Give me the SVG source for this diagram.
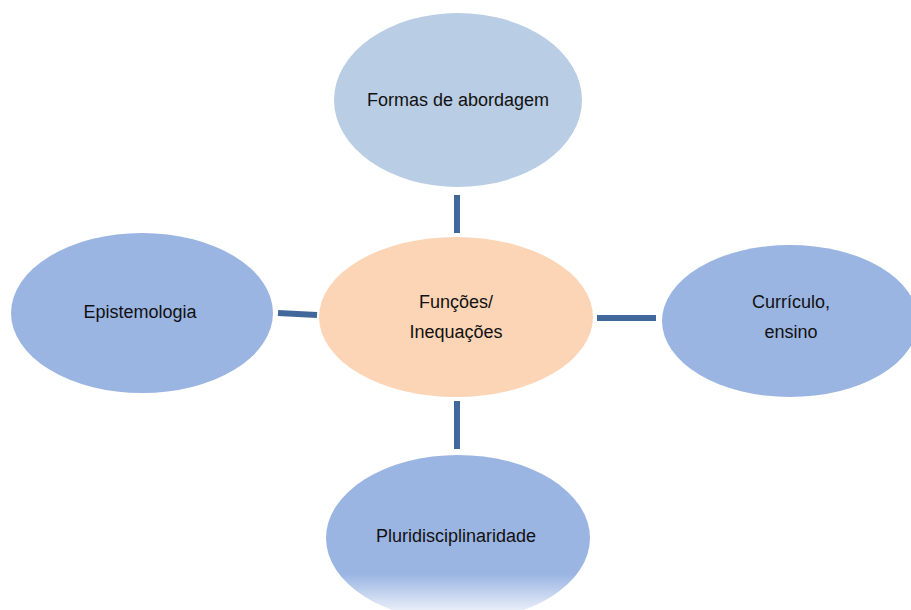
<svg xmlns="http://www.w3.org/2000/svg" width="911" height="610" viewBox="0 0 911 610">
<defs>
<linearGradient id="fade" x1="0" y1="0" x2="0" y2="1">
<stop offset="0" stop-color="#9BB5E3"/>
<stop offset="0.72" stop-color="#9BB5E3"/>
<stop offset="1" stop-color="#FFFFFF"/>
</linearGradient>
<style>
.lbl{font-family:"Liberation Sans",Arial,sans-serif;font-size:18px;fill:#111;text-anchor:middle}
.conn{stroke:#41689A;stroke-width:6;fill:none}
.blue{fill:#9BB5E3}
</style>
</defs>
<rect width="911" height="610" fill="#fff"/>
<g id="connectors">
<line class="conn" x1="457" y1="195" x2="457" y2="233"/>
<line class="conn" x1="457" y1="401" x2="457" y2="449"/>
<line class="conn" x1="278" y1="313" x2="317" y2="315"/>
<line class="conn" x1="597" y1="318" x2="656" y2="318"/>
</g>
<g id="formas">
<ellipse cx="458" cy="100" rx="124" ry="87" fill="#B9CDE5"/>
<text class="lbl" x="458" y="106">Formas de abordagem</text>
</g>
<g id="funcoes">
<ellipse cx="456" cy="317" rx="137" ry="80" fill="#FBD5B5"/>
<text class="lbl" x="456" y="308">Funções/</text>
<text class="lbl" x="456" y="338">Inequações</text>
</g>
<g id="epistemologia">
<ellipse class="blue" cx="142" cy="313" rx="131" ry="80"/>
<text class="lbl" x="140" y="318">Epistemologia</text>
</g>
<g id="curriculo">
<ellipse class="blue" cx="790" cy="321" rx="128" ry="76"/>
<text class="lbl" x="791" y="308">Currículo,</text>
<text class="lbl" x="791" y="338">ensino</text>
</g>
<g id="pluri">
<ellipse cx="458" cy="538" rx="132" ry="83" fill="url(#fade)"/>
<text class="lbl" x="456" y="542">Pluridisciplinaridade</text>
</g>
</svg>
